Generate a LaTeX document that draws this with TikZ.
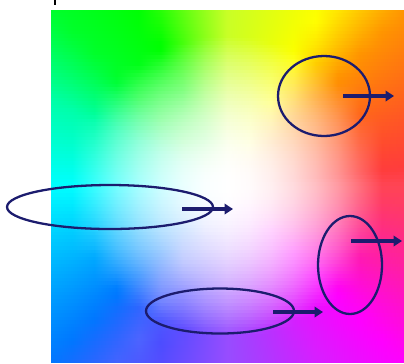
\documentclass[tikz,border=0pt]{standalone}
\usepackage{xcolor}
\usepackage{tikz}
\usetikzlibrary{arrows.meta,shapes.geometric}

\definecolor{inkblue}{RGB}{28,28,110}

\begin{document}
\begin{tikzpicture}[
    x=0.02cm, y=-0.02cm,
    ring/.style={ellipse, draw=inkblue, line width=1.3pt, inner sep=0pt},
    arrow/.style={-{Triangle[length=1.7mm, width=2.1mm]}, draw=inkblue, line width=1.8pt},
    strip/.style={inner sep=0pt, outer sep=0pt, anchor=north west}
]
\useasboundingbox (0,0) rectangle (404,363);

% colour square, one shaded strip per row: hue by angle, saturation by distance
\foreach \j in {0,...,99} {
  \gdef\stoplist{}
  \foreach \k in {0,...,16} {
    \pgfmathsetmacro\dx{\k/8-1}
    \pgfmathsetmacro\dy{1-(\j+0.5)/50}
    \pgfmathsetmacro\th{atan2(\dy,\dx)}
    \pgfmathsetmacro\hu{\th<-135 ? 180+(\th+180)*32/45 : (\th<-120 ? 212+(\th+135)*20/15 : (\th<-90 ? 232+(\th+120)*33/30 : (\th<-62 ? 265+(\th+90)*25/28 : (\th<-45 ? 290+(\th+62)*10/17 : (\th<0 ? 300+(\th+45)*55/45 : (\th<45 ? 355+\th*40/45 : (\th<62 ? 395+(\th-45)*25/17 : (\th<90 ? 420+(\th-62)*15/28 : (\th<115 ? 435+(\th-90)*45/25 : (\th<135 ? 480+(\th-115)*10/20 : (\th<154 ? 490+(\th-135)*30/19 : 520+(\th-154)*20/26)))))))))))}
    \pgfmathsetmacro\smax{\th<-135 ? 1 : (\th<-120 ? 1-(\th+135)*0.3/15 : (\th<-90 ? 0.7 : (\th<-45 ? 0.7+(\th+90)*0.3/45 : (\th<0 ? 1-(\th+45)*0.27/45 : (\th<45 ? 0.73+\th*0.27/45 : (\th<65 ? 1 : (\th<90 ? 1-(\th-65)*0.15/25 : (\th<115 ? 0.85+(\th-90)*0.15/25 : 1))))))))}
    \pgfmathsetmacro\hn{mod(\hu,360)/360}
    \pgfmathsetmacro\rr{sqrt(\dx*\dx+\dy*\dy)/0.85}
    \pgfmathsetmacro\sat{\smax*min(1,\rr*\rr)}
    \pgfmathsetmacro\pos{\k*200.69/16}
    \convertcolorspec{hsb}{\hn,\sat,1}{rgb}\cellrgb
    \ifnum\k=0
      \xdef\stoplist{rgb(\pos bp)=(\cellrgb)}
    \else
      \xdef\stoplist{\stoplist; rgb(\pos bp)=(\cellrgb)}
    \fi
  }
  \edef\declarerow{\noexpand\pgfdeclarehorizontalshading{rowshade\j}{2.4bp}{\stoplist}}
  \declarerow
  \node[strip] (row\j) at (50,{10+\j*3.53}) {\pgfuseshading{rowshade\j}};
}
\fill[white] (404,0) rectangle (420,370);
\fill[white] (0,363) rectangle (420,370);

\draw[line width=0.8pt] (55,0) -- (55,5);

% rings
\node[ring, minimum width=1.84cm, minimum height=1.60cm] (topring) at (324,96) {};
\node[ring, minimum width=4.12cm, minimum height=0.88cm] (leftring) at (110,207) {};
\node[ring, minimum width=2.96cm, minimum height=0.90cm] (lowring) at (220,311) {};
\node[ring, minimum width=1.28cm, minimum height=1.96cm] (sidering) at (350,265) {};

% arrows
\coordinate (topstart) at (343,96);
\coordinate (topend) at (394,96);
\coordinate (leftstart) at (182,209);
\coordinate (leftend) at (233,209);
\coordinate (lowstart) at (273,312);
\coordinate (lowend) at (323,312);
\coordinate (sidestart) at (351,241);
\coordinate (sideend) at (402,241);

\draw[arrow] (topstart) -- (topend);
\draw[arrow] (leftstart) -- (leftend);
\draw[arrow] (lowstart) -- (lowend);
\draw[arrow] (sidestart) -- (sideend);
\end{tikzpicture}
\end{document}
